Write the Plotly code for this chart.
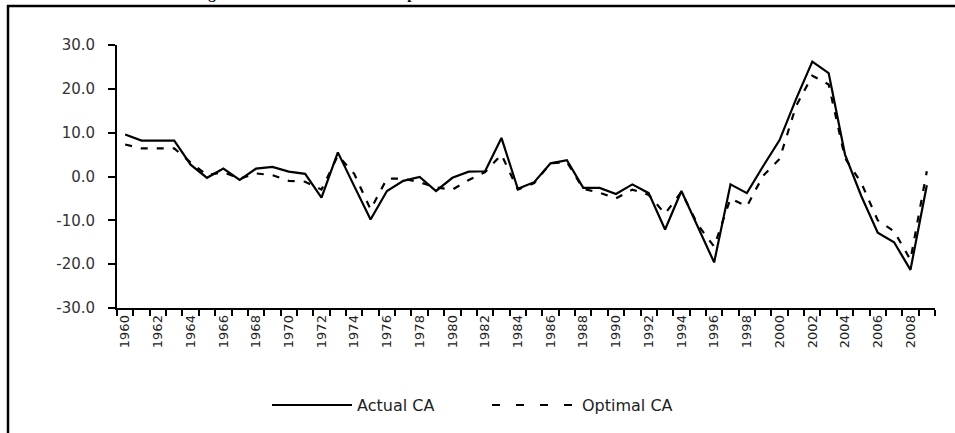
import plotly.graph_objects as go

years = list(range(1960, 2010))
actual_ca = [9.6, 8.2, 8.2, 8.2, 2.7, -0.3, 1.8, -0.8, 1.8, 2.2,
             1.1, 0.6, -4.8, 5.5, -2.2, -9.8, -3.3, -1.0, -0.1, -3.3,
             -0.3, 1.1, 1.2, 8.8, -2.8, -1.3, 3.0, 3.7, -2.6, -2.6,
             -4.0, -1.8, -3.8, -12.1, -3.3, -11.3, -19.6, -1.8, -3.8, 2.4,
             8.3, 17.6, 26.2, 23.6, 5.0, -4.5, -12.8, -15.0, -21.3, -2.0]
optimal_ca = [7.3, 6.4, 6.4, 6.4, 3.2, 0.3, 1.0, -0.5, 0.7, 0.3,
              -1.0, -1.2, -3.0, 4.8, 0.6, -7.5, -0.5, -0.5, -1.3, -2.5,
              -3.0, -0.8, 1.0, 5.0, -3.0, -1.5, 3.0, 3.3, -2.8, -3.7,
              -5.0, -3.0, -4.2, -8.5, -3.5, -11.0, -16.0, -5.0, -6.8, 0.2,
              4.0, 16.0, 23.0, 21.0, 4.2, -1.5, -10.0, -12.5, -19.0, 1.2]
x_tick_years = years[::2]
x_tick_labels = [str(y) for y in x_tick_years]
y_tick_vals = [30, 20, 10, 0, -10, -20, -30]
y_tick_labels = ["30.0", "20.0", "10.0", "0.0", "-10.0", "-20.0", "-30.0"]
series_names = ["Actual CA", "Optimal CA"]
title_text = "Figure 2: Actual CA versus the Optimal CA"

W, H = 955, 433
ML, MR, MT, MB = 117, 20, 45, 125
PW, PH = W - ML - MR, H - MT - MB


def px_x(px):
    return (px - ML) / PW


def px_y(py):
    return (H - MB - py) / PH


FONT = "DejaVu Sans, Verdana, sans-serif"
DASH_PLOT = "7px,9px"
DASH_LEGEND = "8px,16px"

fig = go.Figure()
fig.add_trace(go.Scatter(x=years, y=actual_ca, mode="lines", name=series_names[0],
                         line=dict(color="black", width=2.2), showlegend=False))
fig.add_trace(go.Scatter(x=years, y=optimal_ca, mode="lines", name=series_names[1],
                         line=dict(color="black", width=2.2, dash=DASH_PLOT), showlegend=False))

legend_y = px_y(405)
shapes = [
    # frame (left and top edges visible)
    dict(type="line", xref="paper", yref="paper", x0=px_x(8), x1=px_x(8),
         y0=px_y(H + 5), y1=px_y(5), line=dict(color="black", width=2.5)),
    dict(type="line", xref="paper", yref="paper", x0=px_x(7), x1=px_x(W + 5),
         y0=px_y(6), y1=px_y(6), line=dict(color="black", width=2.5)),
    # legend keys
    dict(type="line", xref="paper", yref="paper", x0=px_x(272), x1=px_x(352),
         y0=legend_y, y1=legend_y, line=dict(color="black", width=2.2)),
    dict(type="line", xref="paper", yref="paper", x0=px_x(492), x1=px_x(572),
         y0=legend_y, y1=legend_y, line=dict(color="black", width=2.2, dash=DASH_LEGEND)),
]
annotations = [
    dict(text="<b>" + title_text + "</b>", xref="paper", yref="paper",
         x=px_x(193), xanchor="left", y=px_y(4), yanchor="bottom",
         showarrow=False, font=dict(family="Liberation Serif, Times New Roman, serif",
                                    size=15, color="black")),
    dict(text=series_names[0], xref="paper", yref="paper", x=px_x(355), xanchor="left",
         y=legend_y, yanchor="middle", showarrow=False,
         font=dict(family=FONT, size=16, color="#222")),
    dict(text=series_names[1], xref="paper", yref="paper", x=px_x(580), xanchor="left",
         y=legend_y, yanchor="middle", showarrow=False,
         font=dict(family=FONT, size=16, color="#222")),
]

fig.update_layout(
    width=W, height=H,
    margin=dict(l=ML, r=MR, t=MT, b=MB, autoexpand=False),
    paper_bgcolor="white", plot_bgcolor="white",
    font=dict(family=FONT, color="#222"),
    showlegend=False,
    xaxis=dict(
        range=[years[0] - 0.5, years[-1] + 0.5],
        tickvals=x_tick_years, ticktext=x_tick_labels, tickangle=-90,
        ticks="", showgrid=False, zeroline=False,
        showline=True, linecolor="black", linewidth=1.8,
        tickfont=dict(size=13, color="#222"),
        minor=dict(ticks="outside", tick0=years[0] - 0.5, dtick=1, ticklen=6,
                   tickcolor="black", tickwidth=1.5, showgrid=False),
    ),
    yaxis=dict(
        range=[-30, 30], tickvals=y_tick_vals, ticktext=y_tick_labels,
        ticks="outside", ticklen=7, tickcolor="black", tickwidth=1.5,
        showgrid=False, zeroline=False,
        showline=True, linecolor="black", linewidth=1.8,
        tickfont=dict(size=15, color="#333"), ticklabelstandoff=10,
    ),
    shapes=shapes,
    annotations=annotations,
)

fig.write_html("out.html",
               config={"displayModeBar": False},
               post_script="document.body.style.margin='0';document.body.style.overflow='hidden';")
